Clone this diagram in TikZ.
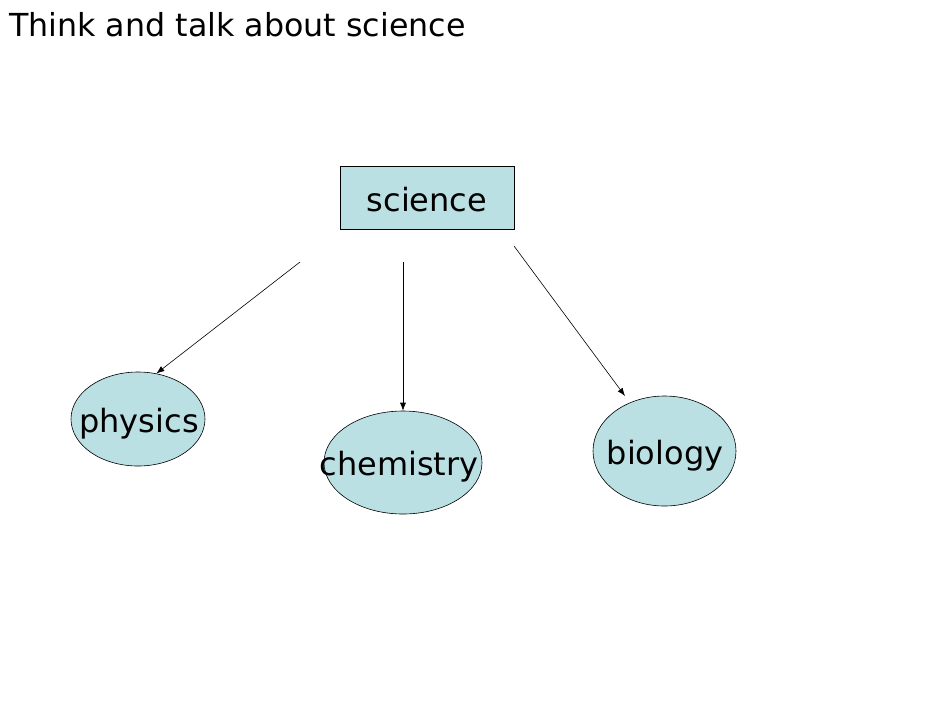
\documentclass[tikz,border=0pt]{standalone}
\usepackage{fontspec}
\setmainfont{DejaVu Sans}
\usetikzlibrary{shapes.geometric,arrows.meta}
\definecolor{fillc}{HTML}{BBE0E3}
\tikzset{
  box/.style={draw=black, fill=fillc, minimum width=174pt, minimum height=63pt, inner sep=0pt, line width=0.6pt},
  oval/.style={draw=black, fill=fillc, ellipse, inner sep=0pt, line width=0.6pt},
  lbl/.style={font=\fontsize{32}{36}\selectfont, inner sep=0pt, text=black},
  conn/.style={-{Latex[length=8pt,width=6pt]}, line width=0.6pt}
}
\begin{document}
\begin{tikzpicture}[x=1pt,y=-1pt]
\useasboundingbox (0,0) rectangle (950,713);
\node[anchor=base west, font=\fontsize{31.7}{36}\selectfont, inner sep=0pt] (title) at (9,36) {Think and talk about science};
\node[box] (sci) at (427,197.5) {};
\node[lbl] (scit) at (427,200) {science};
\node[oval, minimum width=134pt, minimum height=94pt] (phy) at (138,419) {};
\node[lbl] (phyt) at (139,423.5) {physics};
\node[oval, minimum width=158pt, minimum height=103pt] (chem) at (403,462.5) {};
\node[lbl] (chemt) at (399,466.5) {chemistry};
\node[oval, minimum width=143pt, minimum height=110pt] (bio) at (664.5,451) {};
\node[lbl] (biot) at (665,455.5) {biology};
\coordinate (s1) at (300,262);
\coordinate (s2) at (403,262);
\coordinate (s3) at (514,246);
\coordinate (e3) at (625,396);
\draw[conn] (s1) -- (phy.68);
\draw[conn] (s2) -- (chem.north);
\draw[conn] (s3) -- (e3);
\end{tikzpicture}
\end{document}
